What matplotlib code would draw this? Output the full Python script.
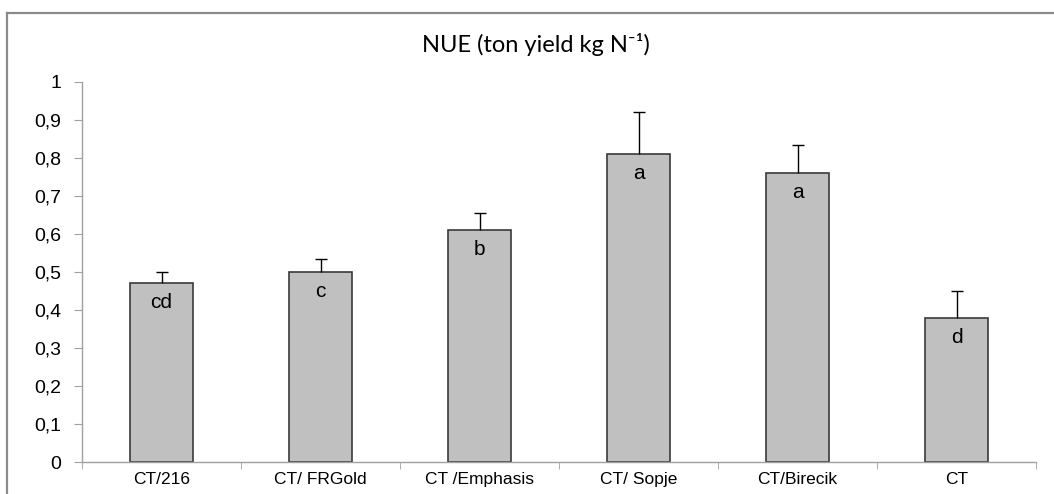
import matplotlib
matplotlib.use("Agg")
import matplotlib.pyplot as plt
from matplotlib.lines import Line2D
import numpy as np

categories = ["CT/216", "CT/ FRGold", "CT /Emphasis", "CT/ Sopje", "CT/Birecik", "CT"]
nue = [0.47, 0.50, 0.61, 0.81, 0.76, 0.38]
err = [0.03, 0.035, 0.045, 0.11, 0.075, 0.07]
letters = ["cd", "c", "b", "a", "a", "d"]
yticks = [0, 0.1, 0.2, 0.3, 0.4, 0.5, 0.6, 0.7, 0.8, 0.9, 1]
ytick_labels = ["0", "0,1", "0,2", "0,3", "0,4", "0,5", "0,6", "0,7", "0,8", "0,9", "1"]

plt.rcParams['font.family'] = ['Liberation Sans', 'DejaVu Sans']

fig = plt.figure(figsize=(10.54, 4.94), dpi=100)
ax = fig.add_axes([82/1054, 1-462/494, (1036-82)/1054, (462-82)/494])

x = np.arange(len(categories))
ax.bar(x, nue, width=0.40, color="#c0c0c0", edgecolor="#3a3a3a", linewidth=1.2, zorder=2)
_, caps, _ = ax.errorbar(x, nue, yerr=[np.zeros(len(err)), err], fmt="none", ecolor="black",
                         elinewidth=1.0, capsize=4.5, capthick=1.0, zorder=3)
caps[0].set_visible(False)

for xi, v, lab in zip(x, nue, letters):
    ax.annotate(lab, (xi, v), xytext=(0, -14), textcoords="offset points",
                ha="center", va="center", fontsize=15, color="black")

ax.set_xlim(-0.5, len(categories) - 0.5)
ax.set_ylim(0, 1)
ax.set_yticks(yticks)
ax.set_yticklabels(ytick_labels, fontsize=14)
ax.set_xticks(x)
ax.set_xticklabels(categories, fontsize=12.5)
ax.set_xticks(np.arange(-0.5, len(categories)), minor=True)
ax.tick_params(axis="x", which="major", length=0, pad=7)
ax.tick_params(axis="x", which="minor", length=5, color="#a0a0a0", direction="out")
ax.tick_params(axis="y", length=6, color="#a0a0a0", direction="out", pad=9)
for s in ["top", "right"]:
    ax.spines[s].set_visible(False)
for s in ["left", "bottom"]:
    ax.spines[s].set_color("#a0a0a0")
    ax.spines[s].set_linewidth(1.0)

fig.text(536/1054, 1-45/494, "NUE (ton yield kg N\u207b\u00b9)", ha="center", va="center",
         fontsize=17, family=["Lato", "DejaVu Sans"])

fig.add_artist(Line2D([7/1054, 7/1054], [0, 1-13/494], transform=fig.transFigure,
                      color="#8a8a8a", linewidth=1.6))
fig.add_artist(Line2D([7/1054, 1], [1-13/494, 1-13/494], transform=fig.transFigure,
                      color="#8a8a8a", linewidth=1.6))

fig.savefig("out.png", dpi=100)
